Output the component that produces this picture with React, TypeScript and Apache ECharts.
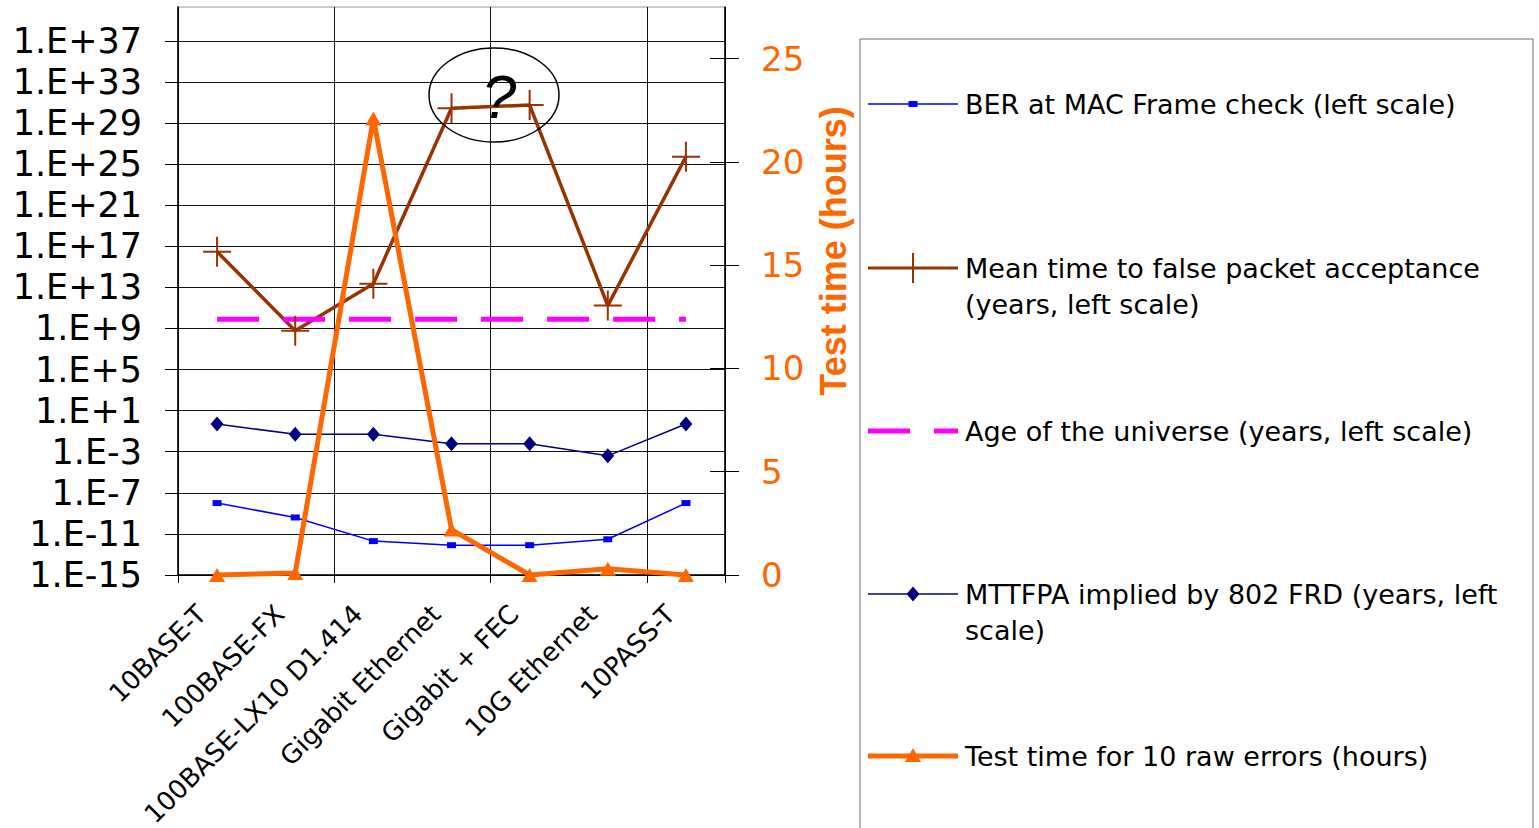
import React, { useEffect, useRef } from 'react';
import * as echarts from 'echarts';

// ---- data ----
const categories = [
  '10BASE-T',
  '100BASE-FX',
  '100BASE-LX10 D1.414',
  'Gigabit Ethernet',
  'Gigabit + FEC',
  '10G Ethernet',
  '10PASS-T',
];
const berAtMacFrameCheck = [1e-8, 4e-10, 2e-12, 8e-13, 8e-13, 3e-12, 1e-8];
const meanTimeToFalseAcceptance = [3e16, 6e8, 2.3e13, 2.8e30, 5.7e30, 1.7e11, 5.4e25];
const ageOfUniverse = [8e9, 8e9, 8e9, 8e9, 8e9, 8e9, 8e9];
const mttfpaImpliedBy802Frd = [0.5, 0.05, 0.05, 0.006, 0.006, 0.0004, 0.5];
const testTimeHours = [0, 0.1, 22.1, 2.2, 0, 0.3, 0];

const leftTickExponents = [-15, -11, -7, -3, 1, 5, 9, 13, 17, 21, 25, 29, 33, 37];
const rightTickValues = [0, 5, 10, 15, 20, 25];

const seriesNames = [
  'BER at MAC Frame check (left scale)',
  'Mean time to false packet acceptance (years, left scale)',
  'Age of the universe (years, left scale)',
  'MTTFPA implied by 802 FRD (years, left scale)',
  'Test time for 10 raw errors (hours)',
];
const legendLines = [
  ['BER at MAC Frame check (left scale)'],
  ['Mean time to false packet acceptance', '(years, left scale)'],
  ['Age of the universe (years, left scale)'],
  ['MTTFPA implied by 802 FRD (years, left', 'scale)'],
  ['Test time for 10 raw errors (hours)'],
];

const BLUE = '#0000FF';
const BROWN = '#993300';
const MAGENTA = '#FF00FF';
const NAVY = '#000080';
const ORANGE = '#FF6600';
const GRID_LINE = '#111111';
const PLUS = 'path://M0,14L28,14L28,16L0,16Z M13,0L15,0L15,30L13,30Z';

const log10 = (v: number) => Math.log10(v);
const expLabel = (v: number) => {
  const e = Math.round(v);
  if (!leftTickExponents.includes(e) || Math.abs(v - e) > 1e-6) return '';
  return `1.E${e >= 0 ? '+' : '-'}${Math.abs(e)}`;
};

function buildLegend(): any[] {
  const els: any[] = [];
  const x0 = 868;
  const x1 = 958;
  const xc = 913;
  const tx = 965;
  const ys = [104, 268, 431, 594, 756];
  const font = { fontSize: 27, fontFamily: '"DejaVu Sans", sans-serif', fill: '#000' };
  els.push({
    type: 'rect',
    shape: { x: 860, y: 39, width: 673, height: 830 },
    style: { fill: '#fff', stroke: '#6e6e6e', lineWidth: 1 },
    z: 10,
  });
  // 1 BER
  els.push({ type: 'line', shape: { x1: x0, y1: ys[0], x2: x1, y2: ys[0] }, style: { stroke: BLUE, lineWidth: 1.5 }, z: 11 });
  els.push({ type: 'rect', shape: { x: xc - 4.5, y: ys[0] - 3, width: 9, height: 6 }, style: { fill: BLUE }, z: 12 });
  // 2 Mean time
  els.push({ type: 'line', shape: { x1: x0, y1: ys[1], x2: x1, y2: ys[1] }, style: { stroke: BROWN, lineWidth: 3 }, z: 11 });
  els.push({ type: 'line', shape: { x1: xc, y1: ys[1] - 15, x2: xc, y2: ys[1] + 15 }, style: { stroke: BROWN, lineWidth: 2 }, z: 12 });
  // 3 Age
  els.push({
    type: 'line',
    shape: { x1: x0, y1: ys[2], x2: x1, y2: ys[2] },
    style: { stroke: MAGENTA, lineWidth: 5, lineDash: [42, 24] },
    z: 11,
  });
  // 4 FRD
  els.push({ type: 'line', shape: { x1: x0, y1: ys[3], x2: x1, y2: ys[3] }, style: { stroke: NAVY, lineWidth: 1.5 }, z: 11 });
  els.push({
    type: 'polygon',
    shape: { points: [[xc, ys[3] - 7.5], [xc + 6.5, ys[3]], [xc, ys[3] + 7.5], [xc - 6.5, ys[3]]] },
    style: { fill: NAVY },
    z: 12,
  });
  // 5 Test time
  els.push({ type: 'line', shape: { x1: x0, y1: ys[4], x2: x1, y2: ys[4] }, style: { stroke: ORANGE, lineWidth: 5 }, z: 11 });
  els.push({
    type: 'polygon',
    shape: { points: [[xc, ys[4] - 8], [xc + 8, ys[4] + 6], [xc - 8, ys[4] + 6]] },
    style: { fill: ORANGE },
    z: 12,
  });
  legendLines.forEach((lines, i) => {
    lines.forEach((t, j) => {
      els.push({
        type: 'text',
        x: tx,
        y: ys[i] + j * 36,
        style: { ...font, text: t, align: 'left', verticalAlign: 'middle' },
        z: 12,
      });
    });
  });
  return els;
}

export default function App() {
  const ref = useRef<HTMLDivElement>(null);

  useEffect(() => {
    document.body.style.margin = '0';
    if (!ref.current) return;
    const chart = echarts.init(ref.current, undefined, { renderer: 'svg' });

    const labelFont = '"DejaVu Sans", sans-serif';

    const option: any = {
      animation: false,
      backgroundColor: '#ffffff',
      grid: {
        left: 178,
        top: 7,
        right: 814,
        bottom: 253,
        show: true,
        borderColor: '#9a9a9a',
        borderWidth: 1,
        backgroundColor: 'transparent',
        containLabel: false,
        outerBoundsMode: 'none',
      },
      xAxis: {
        type: 'category',
        data: categories,
        boundaryGap: true,
        axisLine: { show: true, onZero: false, lineStyle: { color: '#000', width: 1.5 } },
        axisTick: { show: true, interval: 1, length: 8, lineStyle: { color: '#000' } },
        splitLine: { show: true, interval: 1, lineStyle: { color: GRID_LINE, width: 1 } },
        axisLabel: {
          interval: 0,
          rotate: 45,
          margin: 19,
          padding: [0, 22, 0, 0],
          fontSize: 26,
          fontFamily: labelFont,
          color: '#000',
        },
      },
      yAxis: [
        {
          type: 'value',
          position: 'left',
          min: -15,
          max: 40.3,
          interval: 4,
          axisLine: { show: true, onZero: false, lineStyle: { color: '#000', width: 1.5 } },
          axisTick: { show: true, length: 13, customValues: leftTickExponents, lineStyle: { color: '#000' } },
          splitLine: { show: true, lineStyle: { color: GRID_LINE, width: 1 } },
          axisLabel: {
            customValues: leftTickExponents,
            formatter: expLabel,
            margin: 36,
            fontSize: 35,
            fontFamily: labelFont,
            color: '#000',
          },
        },
        {
          type: 'value',
          position: 'right',
          min: 0,
          max: 27.5,
          interval: 5,
          axisLine: { show: true, onZero: false, lineStyle: { color: '#000', width: 1.5 } },
          axisTick: { show: true, length: 14, customValues: rightTickValues, lineStyle: { color: '#000' } },
          splitLine: { show: false },
          axisLabel: {
            customValues: rightTickValues,
            formatter: (v: number) => (rightTickValues.includes(v) ? String(v) : ''),
            margin: 36,
            fontSize: 34,
            fontFamily: labelFont,
            color: ORANGE,
          },
        },
        {
          type: 'value',
          position: 'right',
          min: 0,
          max: 27.5,
          interval: 5,
          axisLine: { show: false, onZero: false },
          axisTick: { show: true, inside: true, length: 15, customValues: rightTickValues, lineStyle: { color: '#000' } },
          splitLine: { show: false },
          axisLabel: { show: false },
        },
      ],
      series: [
        {
          name: seriesNames[0],
          type: 'line',
          yAxisIndex: 0,
          data: berAtMacFrameCheck.map(log10),
          color: BLUE,
          lineStyle: { color: BLUE, width: 1.5 },
          itemStyle: { color: BLUE },
          symbol: 'rect',
          symbolSize: [9, 6],
          silent: true,
        },
        {
          name: seriesNames[1],
          type: 'line',
          yAxisIndex: 0,
          data: meanTimeToFalseAcceptance.map(log10),
          color: BROWN,
          lineStyle: { color: BROWN, width: 3.5 },
          itemStyle: { color: BROWN },
          symbol: PLUS,
          symbolSize: [28, 30],
          silent: true,
        },
        {
          name: seriesNames[2],
          type: 'line',
          yAxisIndex: 0,
          data: ageOfUniverse.map(log10),
          color: MAGENTA,
          lineStyle: { color: MAGENTA, width: 5, type: [42, 24] },
          symbol: 'none',
          silent: true,
        },
        {
          name: seriesNames[3],
          type: 'line',
          yAxisIndex: 0,
          data: mttfpaImpliedBy802Frd.map(log10),
          color: NAVY,
          lineStyle: { color: NAVY, width: 1.5 },
          itemStyle: { color: NAVY },
          symbol: 'diamond',
          symbolSize: [13, 15],
          silent: true,
        },
        {
          name: seriesNames[4],
          type: 'line',
          yAxisIndex: 1,
          data: testTimeHours,
          color: ORANGE,
          lineStyle: { color: ORANGE, width: 5 },
          itemStyle: { color: ORANGE },
          symbol: 'triangle',
          symbolSize: [16, 14],
          silent: true,
        },
      ],
      graphic: [
        {
          type: 'ellipse',
          shape: { cx: 494, cy: 95, rx: 65, ry: 47 },
          style: { fill: 'none', stroke: '#000', lineWidth: 1.5 },
          z: 100,
        },
        {
          type: 'text',
          x: 499,
          y: 96,
          style: {
            text: '?',
            fontSize: 62,
            fontStyle: 'italic',
            fontFamily: '"Liberation Sans", Arial, sans-serif',
            fill: '#000',
            align: 'center',
            verticalAlign: 'middle',
          },
          z: 100,
        },
        {
          type: 'text',
          x: 833,
          y: 251,
          rotation: Math.PI / 2,
          style: {
            text: 'Test time (hours)',
            fontSize: 36,
            fontWeight: 'bold',
            fontFamily: '"Liberation Sans", Arial, sans-serif',
            fill: ORANGE,
            align: 'center',
            verticalAlign: 'middle',
          },
          z: 100,
        },
        ...buildLegend(),
      ],
    };

    chart.setOption(option);
    return () => {
      chart.dispose();
    };
  }, []);

  return (
    <div
      ref={ref}
      style={{ position: 'fixed', left: 0, top: 0, width: '1539px', height: '828px', background: '#fff' }}
    />
  );
}
